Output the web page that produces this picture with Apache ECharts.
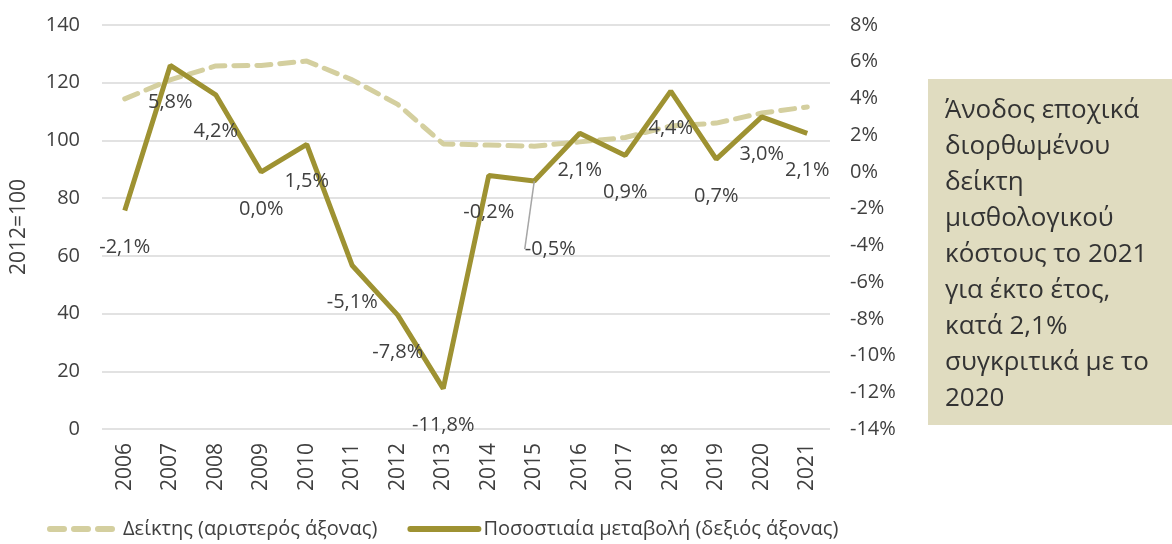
<!DOCTYPE html>
<html>
<head>
<meta charset="utf-8">
<script src="https://cdn.jsdelivr.net/npm/echarts@6/dist/echarts.min.js"></script>
<style>
  html, body { margin: 0; padding: 0; background: #fff; }
  #chart { width: 1172px; height: 544px; }
</style>
</head>
<body>
<div id="chart"></div>
<script>
// κατηγορίες και τιμές
var years = ['2006','2007','2008','2009','2010','2011','2012','2013','2014','2015','2016','2017','2018','2019','2020','2021'];
var indexVals = [114.4, 121, 125.8, 126, 127.5, 121, 112.5, 98.8, 98.4, 98, 99.5, 101, 105, 106, 109.5, 111.6];
var changeVals = [-2.1, 5.8, 4.2, 0.0, 1.5, -5.1, -7.8, -11.8, -0.2, -0.5, 2.1, 0.9, 4.4, 0.7, 3.0, 2.1];
var leftTicks = [0, 140, 20];
var rightTicks = [-14, 8, 2];
var boxText = 'Άνοδος εποχικά\nδιορθωμένου\nδείκτη\nμισθολογικού\nκόστους το 2021\nγια έκτο έτος,\nκατά 2,1%\nσυγκριτικά με το\n2020';

var font = '"Open Sans", "Noto Sans", sans-serif';
var txtColor = '#404040';
var dashCol = '#d4cf9f';
var lineCol = '#9e9232';

// η ετικέτα του 2015 μετακινείται και δείχνει γραμμή οδηγό
var changeData = changeVals.map(function (v, i) {
    if (i === 9) return { value: v, labelLine: { show: true } };
    return v;
});

var myChart = echarts.init(document.getElementById('chart'));
var options = {
    animation: false,
    textStyle: { fontFamily: font },
    grid: { left: 102, right: 342, top: 25, bottom: 115 },
    legend: {
        bottom: 0,
        left: 42,
        itemWidth: 68,
        itemHeight: 10,
        itemGap: 30,
        itemStyle: { opacity: 0 },
        textStyle: { fontSize: 20, color: txtColor, fontFamily: font },
        data: [{
            name: 'Δείκτης (αριστερός άξονας)',
            lineStyle: { color: dashCol, width: 6, type: [14, 10], cap: 'round' }
        }, {
            name: 'Ποσοστιαία μεταβολή (δεξιός άξονας)',
            lineStyle: { color: lineCol, width: 6, cap: 'round' }
        }]
    },
    xAxis: {
        type: 'category',
        data: years,
        boundaryGap: true,
        axisLine: { show: false },
        axisTick: { show: false },
        axisLabel: { rotate: 90, fontSize: 21, color: txtColor, margin: 14, fontFamily: font }
    },
    yAxis: [{
        type: 'value',
        min: leftTicks[0], max: leftTicks[1], interval: leftTicks[2],
        name: '2012=100',
        nameLocation: 'middle',
        nameGap: 72,
        nameTextStyle: { fontSize: 21, color: txtColor, fontFamily: font },
        axisLabel: { fontSize: 20, color: txtColor, margin: 22, fontFamily: font },
        splitLine: { lineStyle: { color: '#d9d9d9', width: 1.5 } },
        axisLine: { show: false },
        axisTick: { show: false }
    }, {
        type: 'value',
        min: rightTicks[0], max: rightTicks[1], interval: rightTicks[2],
        axisLabel: { fontSize: 20, color: txtColor, margin: 20, fontFamily: font,
            formatter: function (v) { return v + '%'; } },
        splitLine: { show: false },
        axisLine: { show: false },
        axisTick: { show: false }
    }],
    series: [{
        name: 'Δείκτης (αριστερός άξονας)',
        type: 'line',
        yAxisIndex: 0,
        data: indexVals,
        symbol: 'none',
        z: 2,
        lineStyle: { color: dashCol, width: 5, type: [14, 9], cap: 'round' },
        itemStyle: { color: dashCol }
    }, {
        name: 'Ποσοστιαία μεταβολή (δεξιός άξονας)',
        type: 'line',
        yAxisIndex: 1,
        data: changeData,
        symbol: 'circle',
        symbolSize: 0,
        showSymbol: true,
        z: 3,
        lineStyle: { color: lineCol, width: 5 },
        itemStyle: { color: lineCol },
        label: {
            show: true,
            position: 'bottom',
            distance: 27,
            fontSize: 20,
            color: txtColor,
            fontFamily: font,
            formatter: function (p) { return p.value.toFixed(1).replace('.', ',') + '%'; }
        },
        labelLine: { show: false, lineStyle: { color: '#a6a6a6', width: 1.5 } },
        labelLayout: function (p) {
            if (p.dataIndex === 9) return { dx: 16, dy: 31 };
            return {};
        }
    }],
    graphic: [{
        type: 'rect',
        left: 928, top: 79,
        shape: { width: 244, height: 346 },
        style: { fill: '#e0dcc0' }
    }, {
        type: 'text',
        left: 945, top: 93,
        style: {
            text: boxText,
            fontSize: 26,
            lineHeight: 36,
            fill: '#333',
            fontFamily: font
        }
    }]
};
myChart.setOption(options);
</script>
</body>
</html>
